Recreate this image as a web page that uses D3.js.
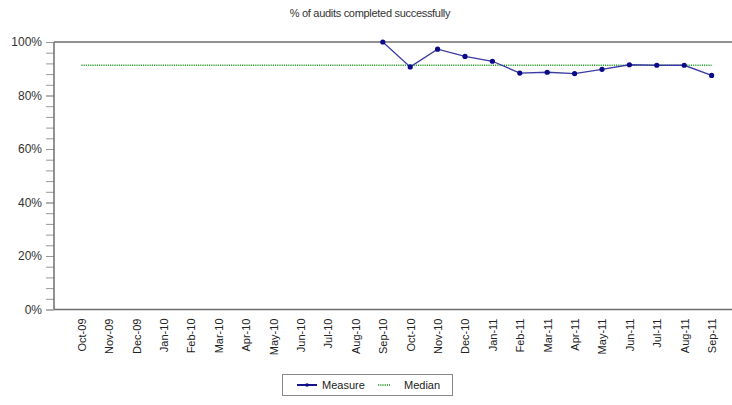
<!DOCTYPE html>
<html>
<head>
<meta charset="utf-8">
<script src="https://cdn.jsdelivr.net/npm/d3@7"></script>
<style>
  html, body { margin: 0; padding: 0; background: #fff; }
  svg { display: block; font-family: "Liberation Sans", Arial, sans-serif; }
</style>
</head>
<body>
<svg id="chart" width="732" height="405"></svg>
<script>
// Monthly categories shown on the x axis
const months = ["Oct-09","Nov-09","Dec-09","Jan-10","Feb-10","Mar-10","Apr-10","May-10",
  "Jun-10","Jul-10","Aug-10","Sep-10","Oct-10","Nov-10","Dec-10","Jan-11","Feb-11",
  "Mar-11","Apr-11","May-11","Jun-11","Jul-11","Aug-11","Sep-11"];

// Measured months (percent of audits completed successfully)
const measureMonths = ["Sep-10","Oct-10","Nov-10","Dec-10","Jan-11","Feb-11","Mar-11",
  "Apr-11","May-11","Jun-11","Jul-11","Aug-11","Sep-11"];
const measureValues = [100, 90.7, 97.3, 94.6, 92.8, 88.4, 88.7, 88.2, 89.8, 91.5, 91.3, 91.3, 87.5];

// Median level drawn across the whole period
const medianValue = 91.3;

// Y axis tick labels
const yTicks = [0, 20, 40, 60, 80, 100];
const yMinorTicks = d3.range(0, 101, 4);

const svg = d3.select("#chart");
const plot = { left: 54, top: 42, right: 739, bottom: 309.5 };

const x = d3.scalePoint().domain(months).range([plot.left, plot.right]).padding(1);
const y = d3.scaleLinear().domain([0, 100]).range([plot.bottom, plot.top]);

// Title
svg.append("text")
  .attr("x", 370).attr("y", 17)
  .attr("text-anchor", "middle")
  .attr("font-size", 11).attr("fill", "#333")
  .attr("letter-spacing", -0.3)
  .text("% of audits completed successfully");

// Minor y ticks
const yMinor = svg.append("g").attr("transform", `translate(${plot.left},0)`)
  .call(d3.axisLeft(y).tickValues(yMinorTicks).tickSize(8).tickFormat(""));
yMinor.select(".domain").remove();
yMinor.selectAll("line").attr("stroke", "#999");

// Major y ticks and labels
const yAxis = svg.append("g").attr("transform", `translate(${plot.left},0)`)
  .call(d3.axisLeft(y).tickValues(yTicks).tickSize(8).tickPadding(4).tickFormat(d => d + "%"));
yAxis.select(".domain").remove();
yAxis.selectAll("line").attr("stroke", "#999");
yAxis.selectAll("text").attr("font-size", 12).attr("fill", "#333")
  .attr("font-family", "'Liberation Sans', Arial, sans-serif");

// X axis labels, rotated
const xAxis = svg.append("g").attr("transform", `translate(0,${plot.bottom})`)
  .call(d3.axisBottom(x).tickSize(0).tickPadding(0));
xAxis.select(".domain").remove();
xAxis.selectAll("text")
  .attr("font-size", 11).attr("fill", "#222")
  .attr("font-family", "'Liberation Sans', Arial, sans-serif")
  .attr("text-anchor", "end")
  .attr("transform", "rotate(-90)")
  .attr("x", -9).attr("y", 0).attr("dy", "0.35em");

// Plot frame
svg.append("line").attr("x1", plot.left).attr("x2", plot.right)
  .attr("y1", plot.top).attr("y2", plot.top)
  .attr("stroke", "#6e6e6e").attr("stroke-width", 1.5);
svg.append("line").attr("x1", plot.left).attr("x2", plot.right)
  .attr("y1", plot.bottom).attr("y2", plot.bottom)
  .attr("stroke", "#6e6e6e").attr("stroke-width", 1.5);
svg.append("line").attr("x1", plot.left).attr("x2", plot.left)
  .attr("y1", plot.top).attr("y2", plot.bottom)
  .attr("stroke", "#6e6e6e").attr("stroke-width", 1.5);

// Median line
svg.append("line")
  .attr("x1", x(months[0])).attr("x2", x(months[months.length - 1]))
  .attr("y1", y(medianValue)).attr("y2", y(medianValue))
  .attr("stroke", "#2f9f2f").attr("stroke-width", 1.3)
  .attr("stroke-dasharray", "1.2,1");

// Measure line and markers
const measure = measureMonths.map((m, i) => ({ m, v: measureValues[i] }));
svg.append("path").datum(measure)
  .attr("fill", "none").attr("stroke", "#3b3ba3").attr("stroke-width", 1.3)
  .attr("d", d3.line().x(d => x(d.m)).y(d => y(d.v)));
svg.selectAll("circle.pt").data(measure).join("circle")
  .attr("class", "pt")
  .attr("cx", d => x(d.m)).attr("cy", d => y(d.v)).attr("r", 2.6)
  .attr("fill", "#0a0a8a");

// Legend
const lg = svg.append("g");
lg.append("rect").attr("x", 282.5).attr("y", 374.5).attr("width", 170).attr("height", 21)
  .attr("fill", "#fff").attr("stroke", "#888").attr("stroke-width", 1);
lg.append("line").attr("x1", 297).attr("x2", 317).attr("y1", 385).attr("y2", 385)
  .attr("stroke", "#14148c").attr("stroke-width", 2);
lg.append("circle").attr("cx", 307).attr("cy", 385).attr("r", 1.8).attr("fill", "#0a0a8a");
lg.append("text").attr("x", 322).attr("y", 389).attr("font-size", 11).attr("fill", "#222")
  .text("Measure");
lg.append("line").attr("x1", 378).attr("x2", 390).attr("y1", 385).attr("y2", 385)
  .attr("stroke", "#1f8f1f").attr("stroke-width", 1.5).attr("stroke-dasharray", "1.2,1");
lg.append("text").attr("x", 404).attr("y", 389).attr("font-size", 11).attr("fill", "#222")
  .text("Median");
</script>
</body>
</html>
